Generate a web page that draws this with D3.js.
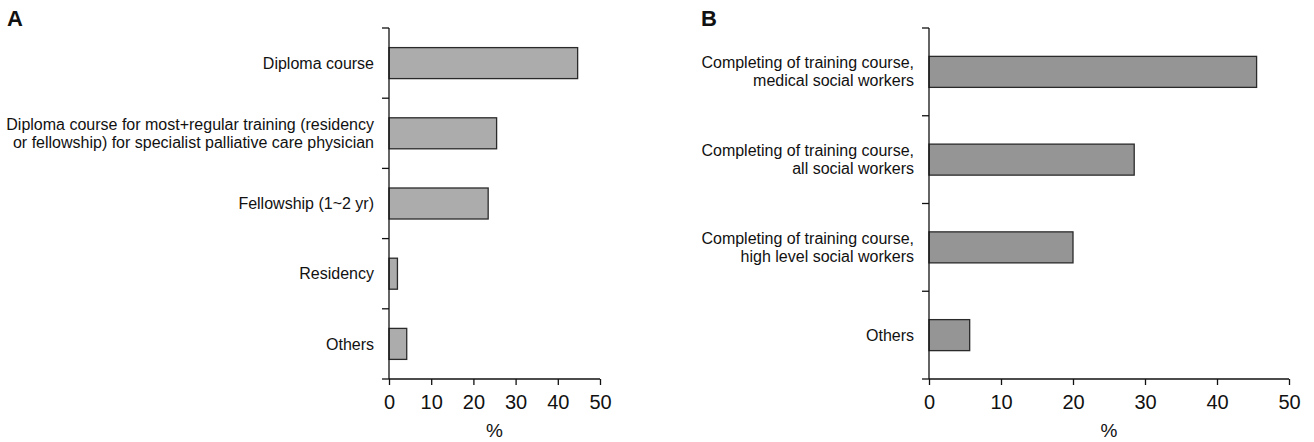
<!DOCTYPE html>
<html>
<head>
<meta charset="utf-8">
<script src="https://cdn.jsdelivr.net/npm/d3@7"></script>
<style>
  html, body { margin: 0; padding: 0; background: #fff; }
  svg { display: block; font-family: "Liberation Sans", Arial, Helvetica, sans-serif; }
</style>
</head>
<body>
<svg id="chart" width="1314" height="442"></svg>
<script>
// Panel A: preferred training path for palliative care physicians
const categoriesA = [
  ["Diploma course"],
  ["Diploma course for most+regular training (residency", "or fellowship) for specialist palliative care physician"],
  ["Fellowship (1~2 yr)"],
  ["Residency"],
  ["Others"]
];
const valuesA = [44.7, 25.5, 23.5, 2.0, 4.2];

// Panel B: preferred training for social workers
const categoriesB = [
  ["Completing of training course,", "medical social workers"],
  ["Completing of training course,", "all social workers"],
  ["Completing of training course,", "high level social workers"],
  ["Others"]
];
const valuesB = [45.5, 28.5, 20.0, 5.65];

const xTicks = [0, 10, 20, 30, 40, 50];
const xLabel = "%";

const svg = d3.select("#chart");

function panel(opts) {
  const { letter, letterX, x0, x1, cats, vals, fill } = opts;
  const top = 28, bottom = 379;
  const g = svg.append("g");

  const x = d3.scaleLinear().domain([0, 50]).range([x0, x1]);
  const y = d3.scaleBand().domain(d3.range(cats.length)).range([top, bottom]).padding(0);
  const barH = 31;

  // bars
  g.selectAll("rect.bar").data(vals).join("rect")
    .attr("class", "bar")
    .attr("x", x(0))
    .attr("y", (d, i) => y(i) + y.bandwidth() / 2 - barH / 2)
    .attr("width", d => x(d) - x(0))
    .attr("height", barH)
    .attr("fill", fill)
    .attr("stroke", "#2a2a2a")
    .attr("stroke-width", 1.3);

  // y axis with ticks on category boundaries
  const boundaries = d3.range(cats.length + 1).map(i => top + i * y.bandwidth());
  g.append("line")
    .attr("x1", x0).attr("x2", x0).attr("y1", top).attr("y2", bottom)
    .attr("stroke", "#111").attr("stroke-width", 1.3);
  g.selectAll("line.ytick").data(boundaries).join("line")
    .attr("class", "ytick")
    .attr("x1", x0 - 7).attr("x2", x0).attr("y1", d => d).attr("y2", d => d)
    .attr("stroke", "#111").attr("stroke-width", 1.3);

  // category labels
  cats.forEach((lines, i) => {
    const cy = y(i) + y.bandwidth() / 2;
    const lh = 18;
    const t = g.append("text")
      .attr("text-anchor", "end")
      .attr("font-size", 16)
      .attr("fill", "#111");
    lines.forEach((ln, k) => {
      t.append("tspan")
        .attr("x", x0 - 15)
        .attr("y", cy + (k - (lines.length - 1) / 2) * lh)
        .attr("dy", "0.35em")
        .text(ln);
    });
  });

  // x axis
  const xa = g.append("g")
    .attr("transform", `translate(0,${bottom})`)
    .call(d3.axisBottom(x).tickValues(xTicks).tickSize(6).tickPadding(10).tickFormat(d3.format("d")));
  xa.select(".domain").attr("stroke", "#111").attr("stroke-width", 1.3)
    .attr("d", `M${x0},0H${x1}`);
  xa.selectAll(".tick line").attr("stroke", "#111").attr("stroke-width", 1.3);
  xa.selectAll(".tick text")
    .attr("font-size", 20)
    .attr("font-family", "'Liberation Sans', Arial, sans-serif")
    .attr("fill", "#111")
    .attr("dy", "0.71em")
    .attr("y", 16);

  g.append("text")
    .attr("x", (x0 + x1) / 2)
    .attr("y", 437)
    .attr("text-anchor", "middle")
    .attr("font-size", 19)
    .attr("fill", "#111")
    .text(xLabel);

  g.append("text")
    .attr("x", letterX)
    .attr("y", 26)
    .attr("font-size", 22)
    .attr("font-weight", "bold")
    .attr("fill", "#111")
    .text(letter);
}

panel({ letter: "A", letterX: 7, x0: 389, x1: 600, cats: categoriesA, vals: valuesA, fill: "#acacac" });
panel({ letter: "B", letterX: 701, x0: 929, x1: 1289, cats: categoriesB, vals: valuesB, fill: "#959595" });
</script>
</body>
</html>
